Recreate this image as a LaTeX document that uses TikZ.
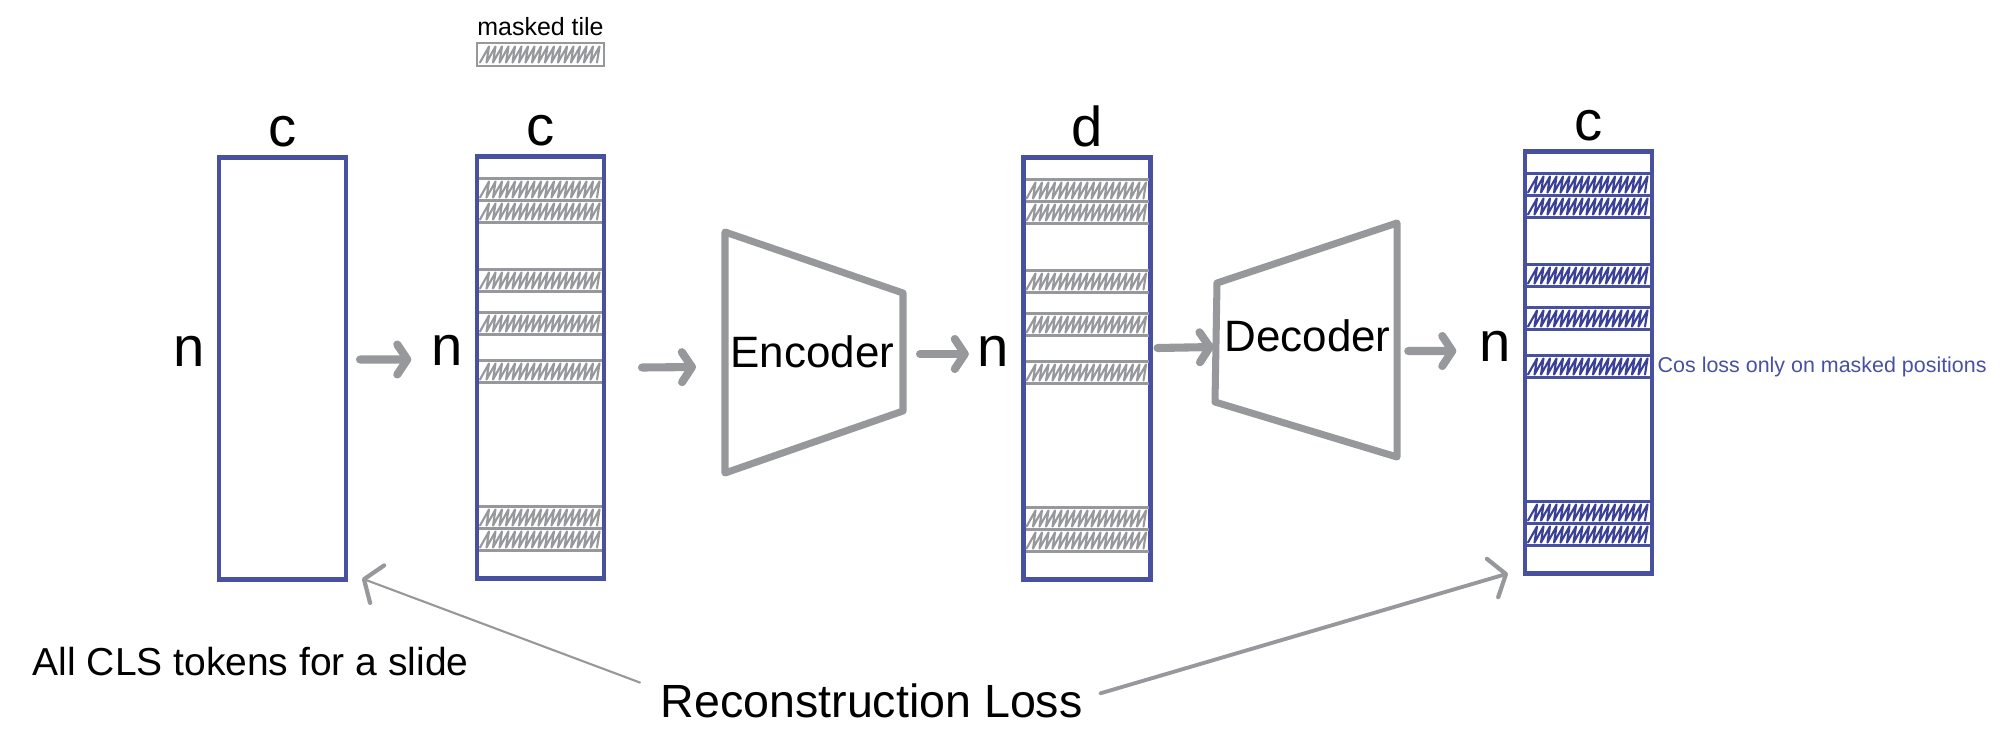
\documentclass[tikz,border=0pt]{standalone}
\usepackage{fontspec}
\setmainfont{Liberation Sans}
\usepackage{tikz}
\usetikzlibrary{calc,positioning,arrows.meta}
\definecolor{matblue}{RGB}{72,80,160}
\definecolor{hatchblue}{RGB}{58,64,150}
\definecolor{sketchgray}{RGB}{150,152,155}

\begin{document}
\begin{tikzpicture}[
		mat/.style={draw=matblue, line width=1.15pt, minimum width=1.27cm, minimum height=4.22cm, inner sep=0pt, outer sep=0pt},
		dimlabel/.style={font=\fontsize{16}{19}\selectfont, inner sep=0pt},
		tileline/.style={line width=0.6pt},
		hatch/.style={line width=0.6pt, line join=round, line cap=round},
		block/.style={draw=sketchgray, line width=2pt, line join=round, line cap=round},
		blocktext/.style={font=\fontsize{12.5}{15}\selectfont, inner sep=0pt},
		fat/.style={draw=sketchgray, line width=2.3pt, line cap=round, -{Straight Barb[length=0.1cm, width=0.3cm, round]}},
		lossarrow/.style={draw=sketchgray, line cap=round, -{Straight Barb[length=0.14cm, width=0.4cm, line width=1.2pt, round]}}
	]
		\useasboundingbox (0,0) rectangle (20,7.52);
		\node[mat] at (2.825,3.835) (col1) {};
		\node[mat] at (5.405,3.845) (col2) {};
		\node[mat] at (10.87,3.835) (col3) {};
		\node[mat] at (15.885,3.895) (col4) {};
		\node[dimlabel, above=0.1cm of col1] (c1) {c};
		\node[dimlabel, above=0.1cm of col2] (c2) {c};
		\node[dimlabel, above=0.1cm of col3] (d3) {d};
		\node[dimlabel, above=0.1cm of col4] (c4) {c};
		\node[dimlabel, left=0.14cm of col1, yshift=0.17cm] (n1) {n};
		\node[dimlabel, left=0.14cm of col2, yshift=0.17cm] (n2) {n};
		\node[dimlabel, left=0.14cm of col3, yshift=0.17cm] (n3) {n};
		\node[dimlabel, left=0.14cm of col4, yshift=0.16cm] (n4) {n};
		\foreach \col/\lc/\hc in {col2/sketchgray/sketchgray, col3/sketchgray/sketchgray, col4/matblue/hatchblue}{
			\foreach \i in {0.22,0.44,1.13,1.56,2.04,3.50,3.72}{
				\draw[tileline, draw=\lc] ($(\col.north west)+(0.02,-\i)$) -- ++(1.23,0) ++(0,-0.22) -- ++(-1.23,0);
				\draw[hatch, draw=\hc] ($(\col.north west)+(0.03,-\i-0.19)$) \foreach \k in {1,...,18}{ -- ++(0.09,0.16) -- ++(-0.025,-0.16)};
			}
		}
		\node[draw=sketchgray, tileline, minimum width=1.27cm, minimum height=0.23cm, inner sep=0pt, outer sep=0pt] at (5.405,6.975) (legend) {};
		\draw[hatch, draw=sketchgray] ($(legend.south west)+(0.03,0.035)$) \foreach \k in {1,...,18}{ -- ++(0.09,0.16) -- ++(-0.025,-0.16)};
		\node[font=\fontsize{7.1}{8}\selectfont, inner sep=0pt, above=0.07cm of legend] (legendtext) {masked tile};
		\node[blocktext] at (8.125,4.005) (enc) {Encoder};
		\draw[block] ($(enc)+(-0.875,1.195)$) -- ($(enc)+(0.905,0.585)$) -- ($(enc)+(0.905,-0.595)$) -- ($(enc)+(-0.875,-1.215)$) -- cycle;
		\node[blocktext] at (13.075,4.165) (dec) {Decoder};
		\draw[block] ($(dec)+(-0.905,0.525)$) -- ($(dec)+(0.895,1.125)$) -- ($(dec)+(0.895,-1.215)$) -- ($(dec)+(-0.925,-0.665)$) -- cycle;
		\draw[fat] ($(col1.east)+(0.14,0.09)$) -- ($(n2.west)+(-0.19,-0.09)$);
		\draw[fat] ($(col2.east)+(0.38,0)$) -- ($(enc.west)+(-0.34,-0.155)$);
		\draw[fat] ($(enc.east)+(0.25,-0.025)$) -- ($(n3.west)+(-0.08,-0.025)$);
		\draw[fat] ($(col3.east)+(0.07,0.205)$) -- ($(dec.west)+(-0.1,-0.115)$);
		\draw[fat] ($(dec.east)+(0.17,-0.155)$) -- ($(n4.west)+(-0.22,-0.045)$);
		\node[anchor=base west, font=\fontsize{6.1}{7}\selectfont, text=matblue, inner sep=0pt] at ($(col4.north east)+(0.05,-2.21)$) (cosloss) {Cos loss only on masked positions};
		\node[anchor=base west, font=\fontsize{11.1}{13}\selectfont, inner sep=0pt] at (0.32,0.77) (slidecap) {All CLS tokens for a slide};
		\node[anchor=base west, font=\fontsize{13.25}{16}\selectfont, inner sep=0pt] at (6.6,0.35) (recloss) {Reconstruction Loss};
		\draw[lossarrow, line width=0.6pt] ($(recloss.north west)+(-0.2,0)$) -- ($(col1.south east)+(0.16,0.01)$);
		\draw[lossarrow, line width=1.1pt] ($(recloss.east)+(0.17,0.07)$) -- ($(col4.south west)+(-0.17,0)$);
	\end{tikzpicture}
\end{document}
